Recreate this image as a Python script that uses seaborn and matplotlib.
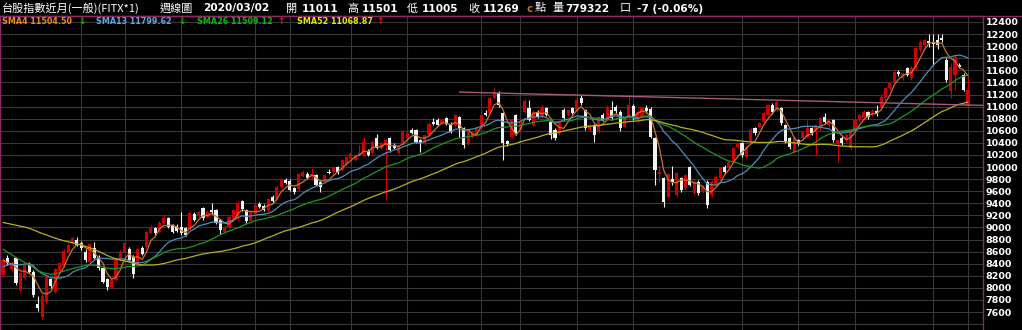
import numpy as np
import pandas as pd
import matplotlib
matplotlib.use("Agg")
import matplotlib.pyplot as plt
import seaborn as sns

# ---------------- data (weekly candles) ----------------
opens = [8210,8490,8310,8490,7965,8160,8380,8270,7740,7525,
         7770,8140,7935,8285,8360,8600,8730,8800,8735,8600,
         8435,8655,8515,8325,8140,8020,8130,8460,8600,8640,
         8505,8405,8655,8680,8915,8985,8930,9070,9150,9040,
         9020,9010,8985,8970,9230,9190,9316,9180,9290,9290,
         9120,8930,8990,9120,9150,9430,9290,9100,9230,9390,
         9355,9290,9500,9470,9665,9785,9775,9650,9630,9850,
         9885,9840,9870,9760,9760,9925,9910,9995,9950,10050,
         10130,10120,10200,10200,10270,10230,10475,10310,10370,10475,
         10364,10230,10390,10475,10620,10610,10450,10390,10530,10750,
         10780,10735,10805,10720,10695,10830,10640,10390,10500,10530,
         10640,10900,10900,11137,11219,10890,10430,10500,10861,10612,
         10916,10971,10695,10916,10833,10971,10750,10612,10557,10943,
         10861,10971,10943,11136,10943,10612,10695,10585,10860,10805,
         10943,10998,10916,10667,10805,11015,10778,10833,10971,10960,
         10474,9880,9812,9509,9800,9537,9812,9647,10000,9564,
         9757,9592,9757,9537,9702,9812,10005,10005,10088,10336,
         10391,10170,10419,10640,10667,10750,10860,11026,10943,10971,
         10695,10474,10254,10447,10474,10502,10640,10585,10640,10833,
         10695,10777,10392,10474,10447,10309,10612,10777,10805,10905,
         10870,10930,10998,11136,11302,11412,11578,11467,11633,11467,
         11633,11936,12020,12085,12060,12102,12129,11777,11253,11529,
         11688,11530,11011]
highs = [8500,8540,8440,8510,8270,8400,8420,8300,7860,7900,
         8210,8170,8330,8430,8640,8740,8850,8840,8770,8640,
         8740,8760,8540,8350,8160,8150,8480,8620,8760,8680,
         8540,8660,8700,8940,9040,9010,9100,9200,9180,9060,
         9050,9260,9010,9270,9260,9290,9340,9290,9400,9310,
         9140,9040,9200,9310,9430,9460,9310,9280,9390,9420,
         9380,9490,9530,9700,9810,9810,9800,9670,9900,9950,
         9920,9980,9890,9780,9890,9960,10020,10020,10140,10190,
         10250,10200,10370,10500,10300,10450,10540,10420,10460,10500,
         10390,10360,10610,10580,10650,10630,10470,10550,10740,10810,
         10810,10800,10830,10750,10880,10850,10660,10630,10590,10660,
         10880,10940,11160,11300,11250,10910,10450,10800,10880,10770,
         11120,11109,10940,10950,11020,11000,10770,10640,10770,10970,
         10960,11000,11130,11190,10960,10720,10720,10850,10890,11020,
         11100,11020,10940,10830,11190,11040,10940,10990,11030,10990,
         10500,10030,9840,9900,10010,9920,9840,9890,10020,9780,
         9780,9700,9780,9780,9860,10000,10030,10110,10330,10400,
         10410,10360,10640,10660,10750,10910,11050,11060,11110,10990,
         10720,10500,10500,10470,10600,10780,10670,10720,10830,10890,
         10800,10800,10470,10530,10560,10600,10800,10880,10940,10930,
         10960,11026,11190,11330,11410,11610,11600,11580,11660,11670,
         11990,12100,12130,12200,12200,12196,12200,11800,11720,11850,
         11720,11550,11501]
lows = [8180,8380,8280,8040,7930,8130,8240,7850,7620,7490,
        7740,8000,7910,8260,8340,8580,8700,8690,8630,8420,
        8410,8470,8300,8080,7970,8000,8110,8440,8580,8440,
        8160,8380,8540,8660,8900,8880,8910,9050,8990,8910,
        8930,8880,8860,8950,9100,9170,9130,9160,9230,9050,
        8890,8900,8970,9100,9130,9280,9080,9080,9210,9320,
        9270,9270,9410,9450,9650,9720,9600,9560,9610,9830,
        9800,9790,9680,9590,9740,9880,9890,9890,9930,10030,
        10110,10100,10180,10180,10180,10210,10290,10290,9450,10250,
        10290,10210,10370,10460,10540,10400,10250,10370,10510,10700,
        10680,10710,10700,10560,10670,10500,10310,10370,10480,10510,
        10620,10840,10880,11120,11000,10120,10350,10480,10530,10590,
        10890,10760,10680,10810,10810,10840,10470,10440,10530,10780,
        10840,10870,10920,11030,10610,10590,10420,10560,10760,10780,
        10780,10900,10600,10640,10780,10780,10750,10810,10900,10480,
        9700,9760,9340,9480,9700,9510,9590,9620,9680,9540,
        9540,9570,9316,9500,9680,9790,9890,9980,10060,10310,
        10170,10150,10400,10530,10640,10730,10840,10880,10920,10690,
        10390,10300,10230,10370,10450,10480,10530,10200,10620,10720,
        10670,10420,10090,10364,10420,10280,10590,10750,10780,10800,
        10850,10850,10970,11110,11280,11390,11510,11440,11500,11440,
        11610,11910,12000,11990,11690,11960,12070,11400,11143,11280,
        11640,11250,11005]
closes = [8460,8405,8405,8075,8240,8380,8270,7880,7660,7865,
          8185,8030,8305,8405,8615,8710,8820,8710,8655,8460,
          8720,8490,8325,8100,8020,8130,8460,8600,8735,8460,
          8230,8640,8560,8920,9010,8900,9070,9150,9010,8930,
          8945,8900,8875,9245,9120,9260,9151,9260,9250,9070,
          8960,9010,9180,9290,9400,9300,9100,9260,9370,9340,
          9290,9470,9430,9675,9785,9740,9620,9590,9885,9920,
          9815,9870,9705,9675,9870,9900,9995,9910,10115,10170,
          10230,10170,10230,10420,10200,10420,10310,10390,10440,10280,
          10310,10340,10585,10557,10560,10420,10390,10530,10720,10720,
          10700,10780,10720,10585,10860,10640,10365,10610,10560,10640,
          10860,10860,11137,11247,11026,10400,10380,10780,10557,10750,
          11098,10778,10916,10833,10999,10861,10530,10475,10750,10806,
          10943,10888,11109,11054,10640,10695,10530,10833,10778,10998,
          10805,10930,10640,10805,11026,10805,10916,10971,10930,10502,
          9950,9910,9426,9880,9757,9895,9620,9867,9702,9757,
          9564,9675,9371,9757,9840,9978,9910,10088,10309,10375,
          10198,10336,10612,10560,10723,10888,11026,10905,11081,10722,
          10419,10336,10474,10392,10585,10640,10557,10695,10805,10750,
          10777,10447,10447,10392,10529,10585,10777,10860,10915,10820,
          10930,10870,11164,11302,11385,11578,11535,11550,11522,11640,
          11964,12074,12102,12047,12030,12019,12100,11440,11650,11826,
          11660,11274,11269]
# weekly closes before the first drawn candle (only feed the moving averages)
prior_closes = [8980,9190,9100,8900,9010,9270,9300,9270,9220,9450,9360,
                9520,9590,9620,9620,9660,9580,9750,9640,9640,9890,9950,
                10030,9820,9800,9750,9700,9700,9470,9350,9290,9380,9300,
                8970,9060,8660,8660,8350,8180,7780,8010,8120,8280,8260,
                8220,8160,8350,8620,8650,8550,8530,8300]

ma_periods = [4, 13, 26, 52]
ma_names = ["SMA4", "SMA13", "SMA26", "SMA52"]
ma_values_text = ["11504.50", "11799.62", "11509.12", "11068.87"]
ma_arrows = ["\u2193", "\u2193", "\u2191", "\u2191"]
y_ticks = list(range(7400, 12401, 200))
trend_idx = [105, 225.4]
trend_price = [11240, 11020]
vgrid_idx = [18, 28, 41, 58, 66, 80, 93, 110, 119, 132, 145, 170, 183, 196, 214, 222]

header_main = "台股指數近月(一般)(FITX*1)"
header_items = [("週線圖", "cjk"), ("2020/03/02", "num"), ("開", "cjk"), ("11011", "num"),
                ("高", "cjk"), ("11501", "num"), ("低", "cjk"), ("11005", "num"),
                ("收", "cjk"), ("11269", "num"), ("c", "c"), ("點", "cjk"), ("量", "cjk"),
                ("779322", "num"), ("口", "cjk"), ("-7 (-0.06%)", "num")]

# ---------------- styling ----------------
sns.set_theme(style="dark", rc={"axes.facecolor": "black", "figure.facecolor": "black",
                                "savefig.facecolor": "black"})
plt.rcParams["font.family"] = ["DejaVu Sans", "Noto Sans CJK TC"]

W, H = 1022, 330
fig = plt.figure(figsize=(W / 100, H / 100), dpi=100)
plot_right = 983
plot_top = 16
ax = fig.add_axes([0, 0, plot_right / W, (H - plot_top) / H])
ax.set_facecolor("black")

n = len(closes)
idx = np.arange(n)
step_px = (968 - 3) / (n - 1)
ax.set_xlim(-3 / step_px, (plot_right - 3) / step_px)
ax.set_ylim(7303, 12499)

grid_col = "#383838"
for v in y_ticks:
    ax.axhline(v, color=grid_col, lw=0.8, zorder=0)
for v in vgrid_idx:
    ax.axvline(v, color=grid_col, lw=0.8, zorder=0)

# candles
o = np.array(opens); c = np.array(closes); h = np.array(highs); l = np.array(lows)
up = c >= o
cols = np.where(up, "#D00000", "#F2F2F2")
ax.vlines(idx, np.minimum(l, np.minimum(o, c)), np.maximum(h, np.maximum(o, c)),
          colors=cols, lw=0.8, zorder=2)
body_h = np.maximum(np.abs(c - o), 14)
ax.bar(idx, body_h, bottom=np.minimum(o, c), width=3.1 / step_px, color=cols,
       linewidth=0, zorder=2)

# moving averages through seaborn
full = pd.Series(prior_closes + closes, dtype=float)
frames = []
for p, name in zip(ma_periods, ma_names):
    ma = full.rolling(p, min_periods=1).mean().iloc[len(prior_closes):].to_numpy()
    frames.append(pd.DataFrame({"idx": idx, "value": ma, "name": name}))
df_ma = pd.concat(frames, ignore_index=True)
line_pal = {"SMA4": "#C8762A", "SMA13": "#4F8DB8", "SMA26": "#1F961F", "SMA52": "#B8B020"}
sns.lineplot(data=df_ma, x="idx", y="value", hue="name", palette=line_pal,
             linewidth=0.9, legend=False, ax=ax, zorder=3, estimator=None)

# trend line
sns.lineplot(x=trend_idx, y=trend_price, color="#A85A78", linewidth=1.0, ax=ax, zorder=3)

# axes cosmetics
ax.set_xticks([])
ax.set_yticks(y_ticks)
ax.set_yticklabels(["" if v < 7600 else str(v) for v in y_ticks])
ax.yaxis.tick_right()
ax.tick_params(axis="y", length=0, pad=2, labelcolor="white", labelsize=6.8)
for t in ax.get_yticklabels():
    t.set_fontweight("bold")
ax.set_xlabel(""); ax.set_ylabel("")
border = "#8A2A5E"
for side in ["top", "left", "right"]:
    ax.spines[side].set_visible(True)
    ax.spines[side].set_color(border)
    ax.spines[side].set_linewidth(1.0)
ax.spines["bottom"].set_visible(False)

# header line
fig.add_artist(plt.Line2D([0, 1], [1 - plot_top / H, 1 - plot_top / H], color=border, lw=1.0))

def fx(x):
    return x / W

def fy(y):
    return 1 - y / H

hy = fy(8.5)
fig.text(fx(2), hy, header_main, color="white", fontsize=8,
         family=["Noto Sans CJK TC", "DejaVu Sans"], va="center", ha="left")
header_x = [160, 203, 286, 302, 347, 362, 407, 422, 468, 483, 526, 535, 552, 565, 620, 637]
for (txt, kind), x in zip(header_items, header_x):
    if kind == "cjk":
        fig.text(fx(x), hy, txt, color="white", fontsize=8,
                 family=["Noto Sans CJK TC", "DejaVu Sans"], va="center", ha="left")
    elif kind == "c":
        fig.text(fx(x), hy, txt, color="#C07020", fontsize=7.4, fontweight="bold",
                 va="center", ha="left")
    else:
        fig.text(fx(x), hy, txt, color="white", fontsize=7.6, fontweight="bold",
                 va="center", ha="left")

# moving-average legend row
leg_cols = ["#F08A1E", "#5AAAE6", "#00BE00", "#E6E600"]
arrow_cols = {"\u2193": "#00C000", "\u2191": "#FF1010"}
leg_x = [2, 96, 197, 297]
arrow_x = [78, 178, 277, 376]
ly = fy(22)
for name, val, arr, col, x, ax_ in zip(ma_names, ma_values_text, ma_arrows, leg_cols, leg_x, arrow_x):
    fig.text(fx(x), ly, f"{name} {val}", color=col, fontsize=5.8, fontweight="bold",
             va="center", ha="left")
    fig.text(fx(ax_), ly, arr, color=arrow_cols[arr], fontsize=6.5, fontweight="bold",
             va="center", ha="left")

fig.savefig("out.png", dpi=100, facecolor="black")
